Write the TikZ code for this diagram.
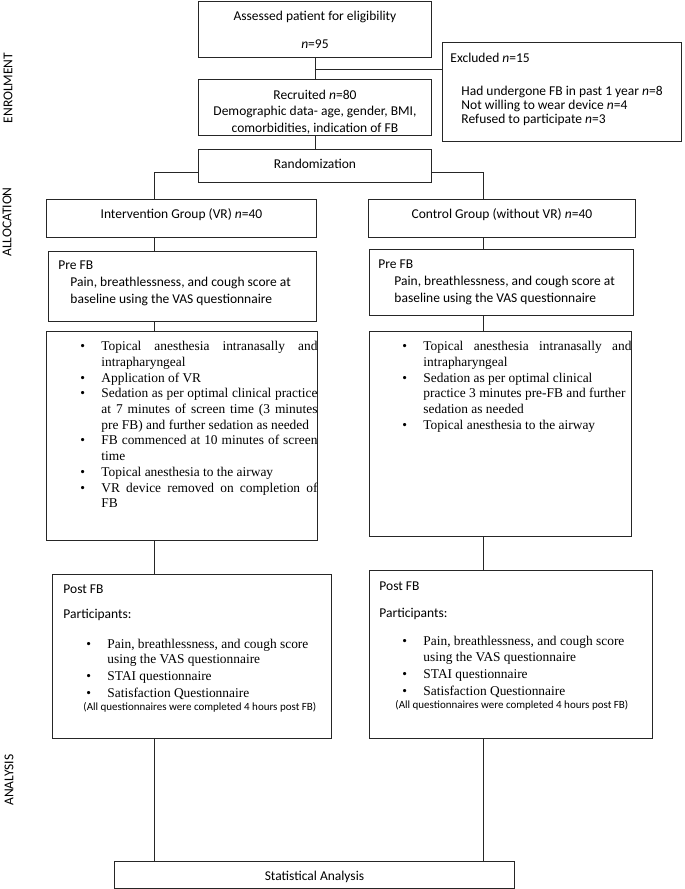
\documentclass[tikz,border=0pt]{standalone}
\usepackage{fontspec}
\setmainfont{Carlito}
\newfontfamily\tnr{Liberation Serif}
\usetikzlibrary{calc}

\hyphenpenalty=10000
\exhyphenpenalty=10000

% text block of a box: height, width, content (top aligned)
\newcommand{\fbpanel}[3]{\parbox[c][#1][t]{#2}{\fontsize{13.5}{16.5}\selectfont #3}}

% bullet list used in the boxes: left margin, right margin, item gap
\newenvironment{fbsteps}[3]{%
  \begin{list}{\textbullet}{%
    \setlength{\leftmargin}{#1}%
    \setlength{\rightmargin}{#2}%
    \setlength{\labelwidth}{20pt}%
    \setlength{\labelsep}{16.5pt}%
    \setlength{\topsep}{0pt}\setlength{\partopsep}{0pt}%
    \setlength{\itemsep}{#3}\setlength{\parsep}{0pt}}}
  {\end{list}}

\begin{document}
\begin{tikzpicture}[x=1pt, y=-1pt,
    box/.style={draw=black!85, line width=0.9pt, inner sep=0pt, anchor=north west},
    link/.style={draw=black!85, line width=0.9pt},
    stage/.style={rotate=90, inner sep=0pt, font=\fontsize{13.5}{16}\selectfont}]
  \useasboundingbox (0,0) rectangle (685,889);

  % Enrolment
  \node[box] (assess) at (198,1) {\fbpanel{56pt}{233pt}{\centering\vspace*{7pt}\strut
    Assessed patient for eligibility\\[11.5pt] \textit{n}=95}};
  \node[box] (excl) at (442,42) {\fbpanel{99pt}{239pt}{\vspace*{8pt}\strut
    \hspace*{8pt}Excluded \textit{n}=15\par
    \fontsize{13.5}{14}\selectfont\vspace{18pt}
    \hspace*{19pt}Had undergone FB in past 1 year \textit{n}=8\\
    \hspace*{19pt}Not willing to wear device \textit{n}=4\\
    \hspace*{19pt}Refused to participate \textit{n}=3}};
  \node[box] (recruit) at (198,79) {\fbpanel{56pt}{233pt}{\centering\vspace*{8pt}\strut
    Recruited \textit{n}=80\\
    Demographic data- age, gender, BMI,\\
    comorbidities, indication of FB}};
  \node[box] (rand) at (198,149) {\fbpanel{33pt}{233pt}{\centering\vspace*{7pt}\strut Randomization}};

  % Allocation
  \node[box] (interv) at (46,199) {\fbpanel{38pt}{270pt}{\centering\vspace*{7pt}\strut
    Intervention Group (VR) \textit{n}=40}};
  \node[box] (control) at (368,199) {\fbpanel{38pt}{267pt}{\centering\vspace*{7pt}\strut
    Control Group (without VR) \textit{n}=40}};

  \node[box] (preL) at (48,251) {\fbpanel{70pt}{268pt}{\fontsize{13.5}{17}\selectfont
    \vspace*{6pt}\strut\hspace*{10pt}Pre FB\\
    \hspace*{22pt}Pain, breathlessness, and cough score at\\
    \hspace*{22pt}baseline using the VAS questionnaire}};
  \node[box] (preR) at (369,249) {\fbpanel{66pt}{264pt}{\fontsize{13.5}{17}\selectfont
    \vspace*{7pt}\strut\hspace*{9pt}Pre FB\\
    \hspace*{25pt}Pain, breathlessness, and cough score at\\
    \hspace*{25pt}baseline using the VAS questionnaire}};

  \node[box] (stepsL) at (46,331) {\fbpanel{209pt}{279pt}{\tnr\fontsize{13.4}{15.7}\selectfont
    \vspace*{8.3pt}
    \begin{fbsteps}{55pt}{8pt}{0pt}
      \item \strut Topical anesthesia intranasally and\linebreak intrapharyngeal
      \item Application of VR
      \item Sedation as per optimal clinical practice\linebreak at 7 minutes of screen time (3 minutes\linebreak pre FB) and further sedation as needed
      \item FB commenced at 10 minutes of screen\linebreak time
      \item Topical anesthesia to the airway
      \item VR device removed on completion of\linebreak FB
    \end{fbsteps}}};
  \node[box] (stepsR) at (369,331) {\fbpanel{205pt}{270pt}{\tnr\fontsize{13.4}{15.7}\selectfont
    \vspace*{8.3pt}
    \begin{fbsteps}{54pt}{8pt}{0pt}
      \item \strut Topical anesthesia intranasally and\linebreak intrapharyngeal
      \item Sedation as per optimal clinical\newline practice 3 minutes pre-FB and further\newline sedation as needed
      \item Topical anesthesia to the airway
    \end{fbsteps}}};

  % Post FB
  \node[box] (postL) at (52,574) {\fbpanel{164pt}{279pt}{\vspace*{7pt}\strut
    \hspace*{11pt}Post FB\par\vspace{8.5pt}
    \hspace*{11pt}Participants:\par
    \tnr\fontsize{13.4}{15.2}\selectfont\vspace{15.1pt}
    \begin{fbsteps}{55pt}{7pt}{1.8pt}
      \item Pain, breathlessness, and cough score\newline using the VAS questionnaire
      \item STAI questionnaire
      \item Satisfaction Questionnaire
    \end{fbsteps}
    \normalfont\fontsize{11}{13}\selectfont\hspace*{31pt}(All questionnaires were completed 4 hours post FB)}};
  \node[box] (postR) at (369,570) {\fbpanel{168pt}{283pt}{\vspace*{8pt}\strut
    \hspace*{10pt}Post FB\par\vspace{10.5pt}
    \hspace*{10pt}Participants:\par
    \tnr\fontsize{13.4}{15.2}\selectfont\vspace{13.6pt}
    \begin{fbsteps}{54pt}{7pt}{1.8pt}
      \item Pain, breathlessness, and cough score\newline using the VAS questionnaire
      \item STAI questionnaire
      \item Satisfaction Questionnaire
    \end{fbsteps}
    \normalfont\fontsize{11}{13}\selectfont\hspace*{26pt}(All questionnaires were completed 4 hours post FB)}};

  % Analysis
  \node[box] (stat) at (114,861) {\fbpanel{27pt}{400pt}{\centering\vspace*{7pt}\strut Statistical Analysis}};

  % Stage labels
  \node[stage] (enrol) at (8,88) {ENROLMENT};
  \node[stage] (alloc) at (7,222) {ALLOCATION};
  \node[stage] (analysis) at (9,780) {ANALYSIS};

  % Connectors
  \coordinate (split) at (314.5,69);
  \coordinate (laneL) at (154,172);
  \coordinate (laneR) at (483,172);

  \draw[link] (assess.south) -- (recruit.north);
  \draw[link] (split) -- (split -| excl.west);
  \draw[link] (recruit.south) -- (rand.north);
  \draw[link] (rand.west |- laneL) -| (interv.north -| laneL);
  \draw[link] (rand.east |- laneR) -| (control.north -| laneR);

  \draw[link] (interv.south -| laneL) -- (preL.north -| laneL);
  \draw[link] (preL.south -| laneL) -- (stepsL.north -| laneL);
  \draw[link] (stepsL.south -| laneL) -- (postL.north -| laneL);
  \draw[link] (postL.south -| laneL) -- (stat.north -| laneL);

  \draw[link] (control.south -| laneR) -- (preR.north -| laneR);
  \draw[link] (preR.south -| laneR) -- (stepsR.north -| laneR);
  \draw[link] (stepsR.south -| laneR) -- (postR.north -| laneR);
  \draw[link] (postR.south -| laneR) -- (stat.north -| laneR);
\end{tikzpicture}
\end{document}
